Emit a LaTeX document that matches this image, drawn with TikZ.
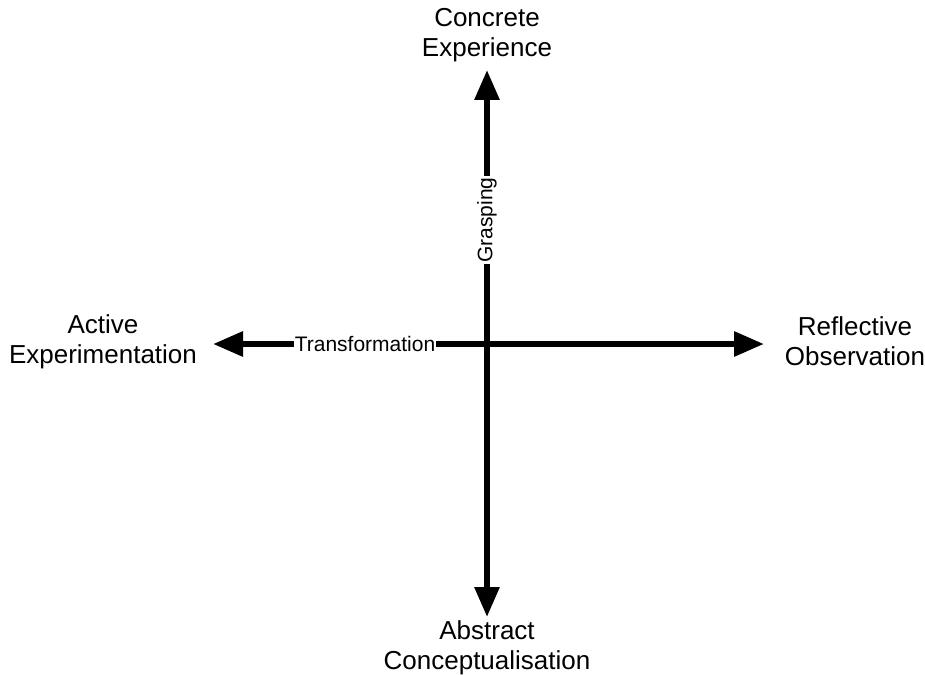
\documentclass[tikz,border=0pt]{standalone}
\usepackage{fontspec}
\setmainfont{Liberation Sans}
\usetikzlibrary{arrows.meta}
\tikzset{
Pole/.style={
 align=center,
 font=\fontsize{26}{30}\selectfont
 },
Axe/.style={
 draw=black,
 line width=6pt,
 {Triangle[length=30pt,width=24pt]}-{Triangle[length=30pt,width=24pt]}
 },
AxeLabel/.style={
 fill=white,
 inner sep=1pt,
 font=\fontsize{21}{24}\selectfont
 }
}
\begin{document}
\begin{tikzpicture}[x=1pt,y=-1pt]
\useasboundingbox (0,0) rectangle (925,674);
\node[Pole] (ce) at (487,35) {Concrete\\Experience};
\node[Pole] (ac) at (487,648) {Abstract\\Conceptualisation};
\node[Pole] (ae) at (103,342) {Active\\Experimentation};
\node[Pole] (ro) at (855,341) {Reflective\\Observation};
\coordinate (haut) at (487,70);
\coordinate (bas) at (487,617);
\coordinate (gauche) at (213,344);
\coordinate (droite) at (764,344);
\draw[Axe] (bas) -- (haut);
\draw[Axe] (gauche) -- (droite);
\node[AxeLabel,rotate=90] (grasp) at (487,220) {Grasping};
\node[AxeLabel] (trans) at (365,344) {Transformation};
\end{tikzpicture}
\end{document}
